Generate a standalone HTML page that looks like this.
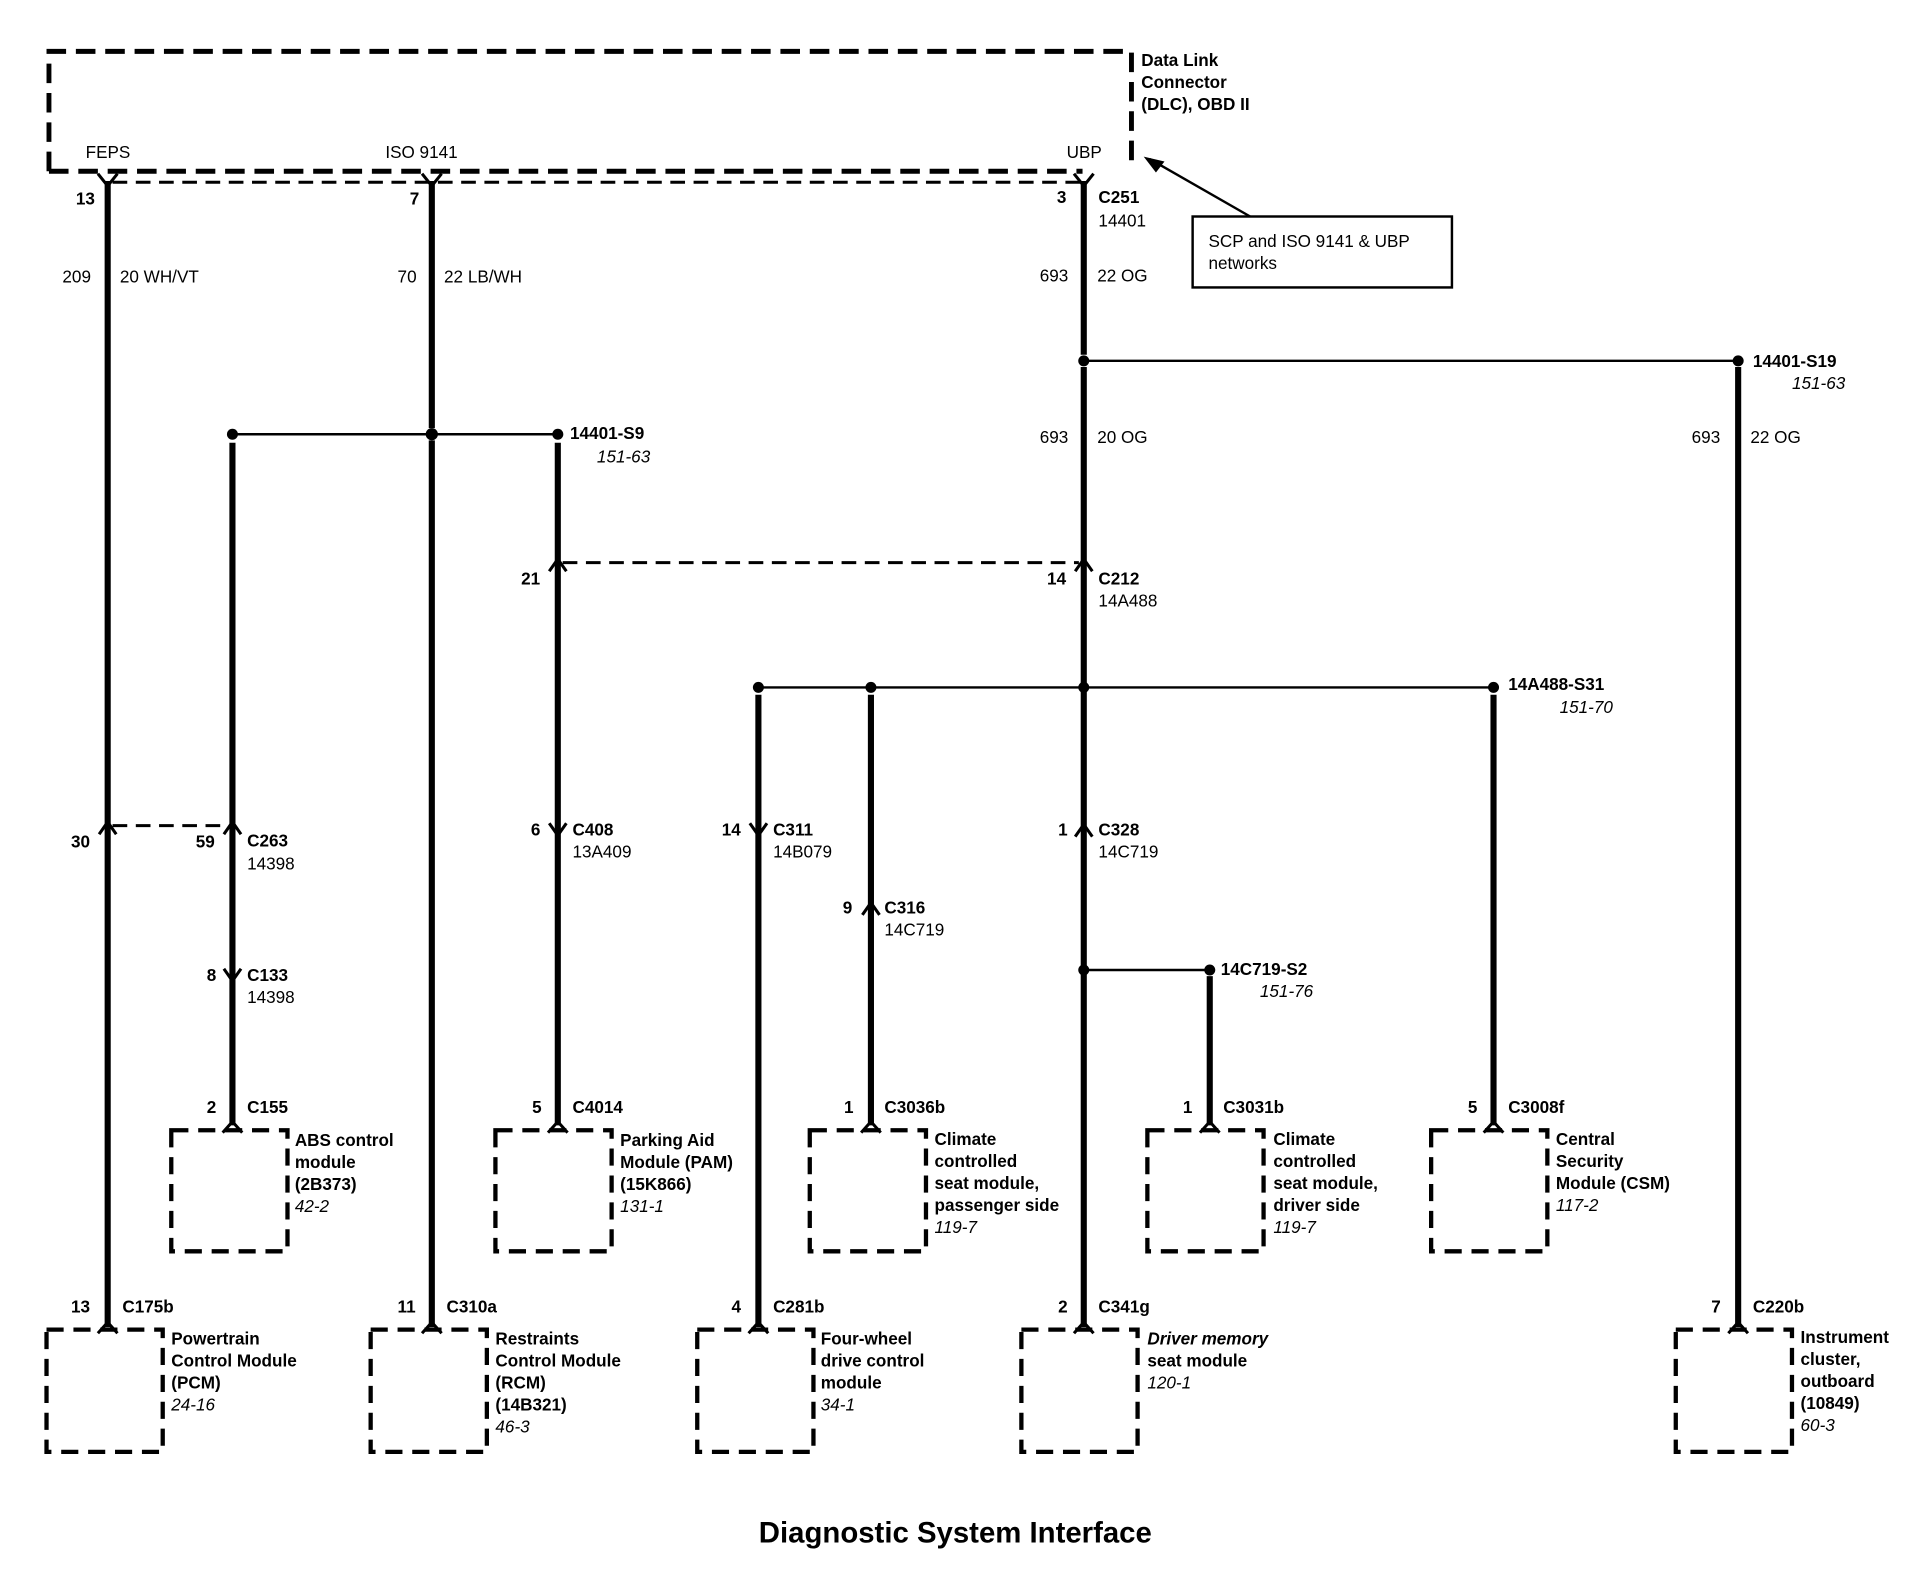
<!DOCTYPE html>
<html><head><meta charset="utf-8"><style>
html,body{margin:0;padding:0;background:#fff}
svg{display:block}
text{font-family:"Liberation Sans",sans-serif;font-size:14px;fill:#000}
.b{font-weight:bold}
.i{font-style:italic}
</style></head><body>
<svg width="1918" height="1584" viewBox="0 0 1568 1295" xmlns="http://www.w3.org/2000/svg">
<g fill="none" stroke="#000">
<!-- DLC box -->
<path d="M40 140 V42 H925 V138" stroke-width="4" stroke-dasharray="16,8"/>
<path d="M40 140 H885" stroke-width="4" stroke-dasharray="16,8"/>
<path d="M92 149 H884" stroke-width="2.5" stroke-dasharray="12,7"/>
<!-- thick wires -->
<g stroke-width="5">
<path d="M88 148 V1085"/><path d="M353 148 V350"/><path d="M353 360 V1085"/>
<path d="M886 148 V290"/><path d="M886 300 V1085"/>
<path d="M1421 300 V1085"/>
<path d="M190 362 V920"/><path d="M456 362 V920"/>
<path d="M620 568 V1085"/><path d="M712 568 V920"/>
<path d="M989 798 V920"/><path d="M1221 568 V920"/>
</g>
<!-- thin lines -->
<g stroke-width="2">
<path d="M886 295 H1421"/><path d="M190 355 H456"/><path d="M620 562 H1221"/><path d="M886 793 H989"/>
<path d="M975 177 L935 128" stroke-width="0"/>
</g>
<g stroke-width="2.5" stroke-dasharray="12,7">
<path d="M460 460 H882"/><path d="M92 675 H186"/>
</g>
<!-- callout -->
<rect x="975" y="177" width="212" height="58" stroke-width="2"/>
<path d="M1022 177 L940 130" stroke-width="2"/>
<!-- chevrons -->
<g stroke-width="2.5">
<path d="M80 142 L88 152 L96 142"/><path d="M345 142 L353 152 L361 142"/><path d="M878 142 L886 152 L894 142"/>
<path d="M81 682 L88 672 L95 682"/><path d="M183 682 L190 672 L197 682"/>
<path d="M183 792 L190 802 L197 792"/>
<path d="M449 673 L456 683 L463 673"/><path d="M613 673 L620 683 L627 673"/>
<path d="M705 748 L712 738 L719 748"/><path d="M879 684 L886 674 L893 684"/>
<path d="M879 467 L886 457 L893 467"/><path d="M449 467 L456 457 L463 467"/>
<path d="M182 926 L190 917 L198 926"/><path d="M448 926 L456 917 L464 926"/>
<path d="M704 926 L712 917 L720 926"/><path d="M981 926 L989 917 L997 926"/>
<path d="M1213 926 L1221 917 L1229 926"/>
<path d="M80 1090 L88 1081 L96 1090"/><path d="M345 1090 L353 1081 L361 1090"/>
<path d="M612 1090 L620 1081 L628 1090"/><path d="M878 1090 L886 1081 L894 1090"/>
<path d="M1413 1090 L1421 1081 L1429 1090"/>
</g>
<!-- component boxes -->
<g stroke-width="3.5" stroke-dasharray="14,8">
<rect x="140" y="924" width="95" height="99"/>
<rect x="405" y="924" width="95" height="99"/>
<rect x="662" y="924" width="95" height="99"/>
<rect x="938" y="924" width="95" height="99"/>
<rect x="1170" y="924" width="95" height="99"/>
<rect x="38" y="1087" width="95" height="100"/>
<rect x="303" y="1087" width="95" height="100"/>
<rect x="570" y="1087" width="95" height="100"/>
<rect x="835" y="1087" width="95" height="100"/>
<rect x="1370" y="1087" width="95" height="100"/>
</g>
</g>
<!-- dots -->
<g fill="#000">
<circle cx="886" cy="295" r="4.5"/><circle cx="1421" cy="295" r="4.5"/>
<circle cx="190" cy="355" r="4.5"/><circle cx="353" cy="355" r="5"/><circle cx="456" cy="355" r="4.5"/>
<circle cx="620" cy="562" r="4.5"/><circle cx="712" cy="562" r="4.5"/><circle cx="886" cy="562" r="4.5"/><circle cx="1221" cy="562" r="4.5"/>
<circle cx="886" cy="793" r="4.5"/><circle cx="989" cy="793" r="4.5"/>
<path d="M935 128 L952 132 L945 141 Z"/>
</g>
<!-- texts -->
<text class="b" x="933" y="54">Data Link</text>
<text class="b" x="933" y="72">Connector</text>
<text class="b" x="933" y="90">(DLC), OBD II</text>
<text x="70" y="129">FEPS</text><text x="315" y="129">ISO 9141</text><text x="872" y="129">UBP</text>
<text x="988" y="202">SCP and ISO 9141 &amp; UBP</text><text x="988" y="220">networks</text>
<text class="b" x="62" y="167">13</text><text class="b" x="335" y="167">7</text><text class="b" x="864" y="166">3</text>
<text class="b" x="898" y="166">C251</text><text x="898" y="185">14401</text>
<text x="51" y="231">209</text><text x="98" y="231">20  WH/VT</text>
<text x="325" y="231">70</text><text x="363" y="231">22  LB/WH</text>
<text x="850" y="230">693</text><text x="897" y="230">22  OG</text>
<text class="b" x="1433" y="300">14401-S19</text><text class="i" x="1465" y="318">151-63</text>
<text x="850" y="362">693</text><text x="897" y="362">20  OG</text>
<text x="1383" y="362">693</text><text x="1431" y="362">22  OG</text>
<text class="b" x="466" y="359">14401-S9</text><text class="i" x="488" y="378">151-63</text>
<text class="b" x="426" y="478">21</text>
<text class="b" x="856" y="478">14</text><text class="b" x="898" y="478">C212</text><text x="898" y="496">14A488</text>
<text class="b" x="1233" y="564">14A488-S31</text><text class="i" x="1275" y="583">151-70</text>
<text class="b" x="58" y="693">30</text><text class="b" x="160" y="693">59</text>
<text class="b" x="202" y="692">C263</text><text x="202" y="711">14398</text>
<text class="b" x="434" y="683">6</text><text class="b" x="468" y="683">C408</text><text x="468" y="701">13A409</text>
<text class="b" x="590" y="683">14</text><text class="b" x="632" y="683">C311</text><text x="632" y="701">14B079</text>
<text class="b" x="865" y="683">1</text><text class="b" x="898" y="683">C328</text><text x="898" y="701">14C719</text>
<text class="b" x="689" y="747">9</text><text class="b" x="723" y="747">C316</text><text x="723" y="765">14C719</text>
<text class="b" x="998" y="797">14C719-S2</text><text class="i" x="1030" y="815">151-76</text>
<text class="b" x="169" y="802">8</text><text class="b" x="202" y="802">C133</text><text x="202" y="820">14398</text>
<text class="b" x="169" y="910">2</text><text class="b" x="202" y="910">C155</text>
<text class="b" x="435" y="910">5</text><text class="b" x="468" y="910">C4014</text>
<text class="b" x="690" y="910">1</text><text class="b" x="723" y="910">C3036b</text>
<text class="b" x="967" y="910">1</text><text class="b" x="1000" y="910">C3031b</text>
<text class="b" x="1200" y="910">5</text><text class="b" x="1233" y="910">C3008f</text>
<text class="b" x="241" y="937">ABS control</text><text class="b" x="241" y="955">module</text><text class="b" x="241" y="973">(2B373)</text><text class="i" x="241" y="991">42-2</text>
<text class="b" x="507" y="937">Parking Aid</text><text class="b" x="507" y="955">Module (PAM)</text><text class="b" x="507" y="973">(15K866)</text><text class="i" x="507" y="991">131-1</text>
<text class="b" x="764" y="936">Climate</text><text class="b" x="764" y="954">controlled</text><text class="b" x="764" y="972">seat module,</text><text class="b" x="764" y="990">passenger side</text><text class="i" x="764" y="1008">119-7</text>
<text class="b" x="1041" y="936">Climate</text><text class="b" x="1041" y="954">controlled</text><text class="b" x="1041" y="972">seat module,</text><text class="b" x="1041" y="990">driver side</text><text class="i" x="1041" y="1008">119-7</text>
<text class="b" x="1272" y="936">Central</text><text class="b" x="1272" y="954">Security</text><text class="b" x="1272" y="972">Module (CSM)</text><text class="i" x="1272" y="990">117-2</text>
<text class="b" x="58" y="1073">13</text><text class="b" x="100" y="1073">C175b</text>
<text class="b" x="325" y="1073">11</text><text class="b" x="365" y="1073">C310a</text>
<text class="b" x="598" y="1073">4</text><text class="b" x="632" y="1073">C281b</text>
<text class="b" x="865" y="1073">2</text><text class="b" x="898" y="1073">C341g</text>
<text class="b" x="1399" y="1073">7</text><text class="b" x="1433" y="1073">C220b</text>
<text class="b" x="140" y="1099">Powertrain</text><text class="b" x="140" y="1117">Control Module</text><text class="b" x="140" y="1135">(PCM)</text><text class="i" x="140" y="1153">24-16</text>
<text class="b" x="405" y="1099">Restraints</text><text class="b" x="405" y="1117">Control Module</text><text class="b" x="405" y="1135">(RCM)</text><text class="b" x="405" y="1153">(14B321)</text><text class="i" x="405" y="1171">46-3</text>
<text class="b" x="671" y="1099">Four-wheel</text><text class="b" x="671" y="1117">drive control</text><text class="b" x="671" y="1135">module</text><text class="i" x="671" y="1153">34-1</text>
<text class="b i" x="938" y="1099">Driver memory</text><text class="b" x="938" y="1117">seat module</text><text class="i" x="938" y="1135">120-1</text>
<text class="b" x="1472" y="1098">Instrument</text><text class="b" x="1472" y="1116">cluster,</text><text class="b" x="1472" y="1134">outboard</text><text class="b" x="1472" y="1152">(10849)</text><text class="i" x="1472" y="1170">60-3</text>
<text class="b" x="781" y="1261" text-anchor="middle" style="font-size:24px">Diagnostic System Interface</text>
</svg>
</body></html>
